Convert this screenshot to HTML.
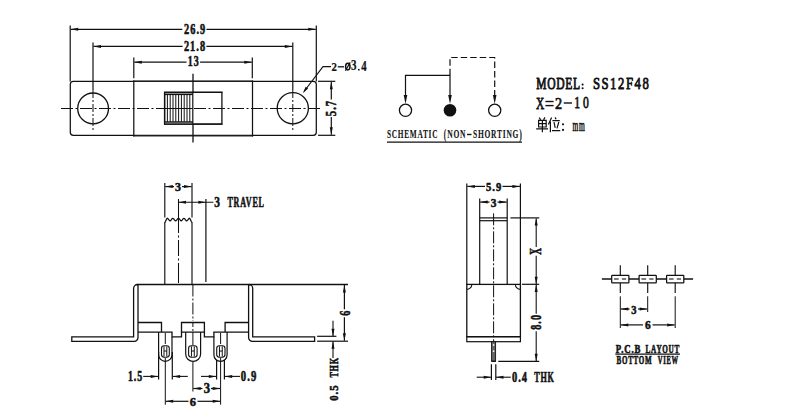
<!DOCTYPE html>
<html><head><meta charset="utf-8"><style>
html,body{margin:0;padding:0;background:#fff;}
svg{display:block;}
</style></head><body>
<svg width="800" height="420" viewBox="0 0 800 420">
<rect width="800" height="420" fill="#fff"/>
<line x1="70.2" y1="25.5" x2="70.2" y2="81.5" stroke="#111" stroke-width="1.2"/>
<line x1="316.3" y1="25.5" x2="316.3" y2="81.5" stroke="#111" stroke-width="1.2"/>
<line x1="93.0" y1="42.5" x2="93.0" y2="90" stroke="#111" stroke-width="1.2"/>
<line x1="292.8" y1="42.5" x2="292.8" y2="90" stroke="#111" stroke-width="1.2"/>
<line x1="133.8" y1="57.5" x2="133.8" y2="78.3" stroke="#111" stroke-width="1.2"/>
<line x1="252.3" y1="57.5" x2="252.3" y2="78.3" stroke="#111" stroke-width="1.2"/>
<line x1="70.7" y1="29.3" x2="182.3" y2="29.3" stroke="#111" stroke-width="1.2"/>
<line x1="206.5" y1="29.3" x2="315.8" y2="29.3" stroke="#111" stroke-width="1.2"/>
<polygon points="70.70,29.30 78.20,27.80 78.20,30.80" fill="#111"/>
<polygon points="315.80,29.30 308.30,27.80 308.30,30.80" fill="#111"/>
<line x1="93.5" y1="46.4" x2="182.6" y2="46.4" stroke="#111" stroke-width="1.2"/>
<line x1="206.4" y1="46.4" x2="292.3" y2="46.4" stroke="#111" stroke-width="1.2"/>
<polygon points="93.50,46.40 101.00,44.90 101.00,47.90" fill="#111"/>
<polygon points="292.30,46.40 284.80,44.90 284.80,47.90" fill="#111"/>
<line x1="134.3" y1="62.2" x2="186.5" y2="62.2" stroke="#111" stroke-width="1.2"/>
<line x1="200.1" y1="62.2" x2="251.8" y2="62.2" stroke="#111" stroke-width="1.2"/>
<polygon points="134.30,62.20 141.80,60.70 141.80,63.70" fill="#111"/>
<polygon points="251.80,62.20 244.30,60.70 244.30,63.70" fill="#111"/>
<text transform="translate(184.000,33.852) scale(0.10366,0.14776)" style="font-family:'Liberation Serif';font-weight:bold;font-size:100px" fill="#111" stroke="#111" stroke-width="3.98" stroke-linejoin="round" letter-spacing="10.0" xml:space="preserve">26.9</text>
<text transform="translate(183.900,51.457) scale(0.10341,0.14328)" style="font-family:'Liberation Serif';font-weight:bold;font-size:100px" fill="#111" stroke="#111" stroke-width="4.05" stroke-linejoin="round" letter-spacing="10.0" xml:space="preserve">21.8</text>
<text transform="translate(187.800,66.457) scale(0.09909,0.14254)" style="font-family:'Liberation Serif';font-weight:bold;font-size:100px" fill="#111" stroke="#111" stroke-width="4.14" stroke-linejoin="round" letter-spacing="10.0" xml:space="preserve">13</text>
<path d="M73.3,81.3 H313.3 A3,3 0 0 1 316.3,84.3 V132.3 A3,3 0 0 1 313.3,135.3 H73.3 A3,3 0 0 1 70.3,132.3 V84.3 A3,3 0 0 1 73.3,81.3 Z" stroke="#111" stroke-width="1.25" fill="none"/>
<line x1="133.2" y1="81.0" x2="253.1" y2="81.0" stroke="#2a2a2a" stroke-width="1.15"/>
<line x1="133.2" y1="136.0" x2="253.1" y2="136.0" stroke="#2a2a2a" stroke-width="1.15"/>
<line x1="133.8" y1="80.5" x2="133.8" y2="136.5" stroke="#111" stroke-width="1.25"/>
<line x1="252.5" y1="80.5" x2="252.5" y2="136.5" stroke="#111" stroke-width="1.25"/>
<circle cx="93.1" cy="108.4" r="15.4" fill="none" stroke="#111" stroke-width="1.3"/>
<circle cx="292.8" cy="108.3" r="15.6" fill="none" stroke="#111" stroke-width="1.3"/>
<line x1="61" y1="108.5" x2="321.3" y2="108.5" stroke="#111" stroke-width="1.0" stroke-dasharray="12 2.5 2 2.5"/>
<line x1="93.0" y1="90" x2="93.0" y2="130" stroke="#111" stroke-width="1.0" stroke-dasharray="8 2 2 2"/>
<line x1="292.8" y1="90" x2="292.8" y2="130" stroke="#111" stroke-width="1.0" stroke-dasharray="8 2 2 2"/>
<line x1="193.0" y1="73.8" x2="193.0" y2="92.3" stroke="#111" stroke-width="1.3"/>
<line x1="193.0" y1="124.1" x2="193.0" y2="142.5" stroke="#111" stroke-width="1.3"/>
<rect x="164.6" y="92.3" width="57.3" height="31.8" fill="none" stroke="#111" stroke-width="1.3"/>
<rect x="164.6" y="92.3" width="28.2" height="2.2" fill="#999"/>
<rect x="164.6" y="121.9" width="28.2" height="2.2" fill="#999"/>
<line x1="164.6" y1="94.5" x2="192.8" y2="94.5" stroke="#111" stroke-width="1.2"/>
<line x1="164.6" y1="121.9" x2="192.8" y2="121.9" stroke="#111" stroke-width="1.2"/>
<line x1="164.0" y1="92.3" x2="222.5" y2="92.3" stroke="#111" stroke-width="1.3"/>
<line x1="164.0" y1="124.1" x2="222.5" y2="124.1" stroke="#111" stroke-width="1.3"/>
<line x1="164.6" y1="92.3" x2="164.6" y2="124.1" stroke="#111" stroke-width="1.3"/>
<line x1="192.8" y1="92.3" x2="192.8" y2="124.1" stroke="#111" stroke-width="1.2"/>
<line x1="167.4" y1="94.5" x2="167.4" y2="121.9" stroke="#111" stroke-width="1.0"/>
<line x1="170.2" y1="94.5" x2="170.2" y2="121.9" stroke="#111" stroke-width="1.0"/>
<line x1="173.0" y1="94.5" x2="173.0" y2="121.9" stroke="#111" stroke-width="1.0"/>
<line x1="175.8" y1="94.5" x2="175.8" y2="121.9" stroke="#111" stroke-width="1.0"/>
<line x1="178.6" y1="94.5" x2="178.6" y2="121.9" stroke="#111" stroke-width="1.0"/>
<line x1="181.4" y1="94.5" x2="181.4" y2="121.9" stroke="#111" stroke-width="1.0"/>
<line x1="184.2" y1="94.5" x2="184.2" y2="121.9" stroke="#111" stroke-width="1.0"/>
<line x1="187.0" y1="94.5" x2="187.0" y2="121.9" stroke="#111" stroke-width="1.0"/>
<line x1="189.8" y1="94.5" x2="189.8" y2="121.9" stroke="#111" stroke-width="1.0"/>
<line x1="164.6" y1="108.5" x2="192.8" y2="108.5" stroke="#111" stroke-width="1.0"/>
<line x1="318" y1="81.3" x2="335.3" y2="81.3" stroke="#111" stroke-width="1.2"/>
<line x1="318" y1="135.3" x2="335.3" y2="135.3" stroke="#111" stroke-width="1.2"/>
<line x1="331.3" y1="81.8" x2="331.3" y2="99.6" stroke="#111" stroke-width="1.2"/>
<line x1="331.3" y1="117.1" x2="331.3" y2="134.8" stroke="#111" stroke-width="1.2"/>
<polygon points="331.30,81.80 329.80,89.30 332.80,89.30" fill="#111"/>
<polygon points="331.30,134.80 329.80,127.30 332.80,127.30" fill="#111"/>
<text transform="translate(335.856,116.200) rotate(-90) scale(0.10621,0.14394)" style="font-family:'Liberation Serif';font-weight:bold;font-size:100px" fill="#111" stroke="#111" stroke-width="4.00" stroke-linejoin="round" letter-spacing="10.0" xml:space="preserve">5.7</text>
<path d="M331,66.6 H323 L304,91.5" stroke="#111" stroke-width="1.1" fill="none"/>
<polygon points="302.80,93.30 305.68,86.75 308.11,88.50" fill="#111"/>
<text transform="translate(331.600,70.500) scale(0.10800,0.13485)" style="font-family:'Liberation Serif';font-weight:bold;font-size:100px" fill="#111" stroke="#111" stroke-width="1.65" stroke-linejoin="round" letter-spacing="10.0" xml:space="preserve">2</text>
<line x1="337.8" y1="66.8" x2="344" y2="66.8" stroke="#111" stroke-width="1.3"/>
<ellipse cx="347.8" cy="66.6" rx="2.2" ry="3.3" fill="none" stroke="#111" stroke-width="1.5"/>
<line x1="350.2" y1="62.4" x2="345.4" y2="70.8" stroke="#111" stroke-width="1.2"/>
<text transform="translate(351.000,70.364) scale(0.11000,0.13582)" style="font-family:'Liberation Serif';font-weight:bold;font-size:100px" fill="#111" stroke="#111" stroke-width="1.63" stroke-linejoin="round" letter-spacing="10.0" xml:space="preserve">3</text>
<rect x="358.0" y="68.9" width="1.6" height="1.6" fill="#111"/>
<text transform="translate(361.200,70.500) scale(0.10800,0.14000)" style="font-family:'Liberation Serif';font-weight:bold;font-size:100px" fill="#111" stroke="#111" stroke-width="1.61" stroke-linejoin="round" letter-spacing="10.0" xml:space="preserve">4</text>
<path d="M405.5,96 V75.3 H450 V96" stroke="#111" stroke-width="1.2" fill="none"/>
<path d="M450,75.3 V57.5 H494.7 V96" stroke="#111" stroke-width="1.2" fill="none" stroke-dasharray="6.5 3"/>
<polygon points="405.50,104.00 403.70,95.00 407.30,95.00" fill="#111"/>
<polygon points="450.00,104.00 448.20,95.00 451.80,95.00" fill="#111"/>
<polygon points="494.70,104.00 492.90,95.00 496.50,95.00" fill="#111"/>
<circle cx="405.5" cy="110.3" r="6.1" fill="#fff" stroke="#111" stroke-width="1.3"/>
<circle cx="450" cy="110.3" r="6.3" fill="#111"/>
<circle cx="494.7" cy="110.3" r="6.1" fill="#fff" stroke="#111" stroke-width="1.3"/>
<text transform="translate(387.000,138.281) scale(0.07329,0.11940)" style="font-family:'Liberation Serif';font-weight:bold;font-size:100px" fill="#111" stroke="#111" stroke-width="1.04" stroke-linejoin="round" letter-spacing="10.0" xml:space="preserve">SCHEMATIC</text>
<text transform="translate(443.750,138.908) scale(0.07424,0.14722)" style="font-family:'Liberation Serif';font-weight:bold;font-size:100px" fill="#111" stroke="#111" stroke-width="0.90" stroke-linejoin="round" letter-spacing="10.0" xml:space="preserve">(</text>
<text transform="translate(447.250,138.279) scale(0.07541,0.12090)" style="font-family:'Liberation Serif';font-weight:bold;font-size:100px" fill="#111" stroke="#111" stroke-width="1.02" stroke-linejoin="round" letter-spacing="10.0" xml:space="preserve">NON</text>
<line x1="467" y1="134.5" x2="471.5" y2="134.5" stroke="#111" stroke-width="1.4"/>
<text transform="translate(473.000,138.400) scale(0.07508,0.12462)" style="font-family:'Liberation Serif';font-weight:bold;font-size:100px" fill="#111" stroke="#111" stroke-width="1.00" stroke-linejoin="round" letter-spacing="10.0" xml:space="preserve">SHORTING</text>
<text transform="translate(519.200,138.567) scale(0.07879,0.14444)" style="font-family:'Liberation Serif';font-weight:bold;font-size:100px" fill="#111" stroke="#111" stroke-width="0.90" stroke-linejoin="round" letter-spacing="10.0" xml:space="preserve">)</text>
<line x1="387" y1="142.2" x2="522" y2="142.2" stroke="#111" stroke-width="1.3"/>
<text transform="translate(536.300,88.839) scale(0.11553,0.16119)" style="font-family:'Liberation Serif';font-weight:normal;font-size:100px" fill="#111" stroke="#111" stroke-width="5.42" stroke-linejoin="round" letter-spacing="6.0" xml:space="preserve">MODEL</text>
<circle cx="582.6" cy="84.6" r="1.05" fill="#111"/>
<circle cx="582.6" cy="88.3" r="1.05" fill="#111"/>
<text transform="translate(592.900,88.839) scale(0.12733,0.16119)" style="font-family:'Liberation Serif';font-weight:normal;font-size:100px" fill="#111" stroke="#111" stroke-width="5.20" stroke-linejoin="round" letter-spacing="12.0" xml:space="preserve">SS12F48</text>
<text transform="translate(536.000,108.500) scale(0.11458,0.16769)" style="font-family:'Liberation Serif';font-weight:normal;font-size:100px" fill="#111" stroke="#111" stroke-width="4.61" stroke-linejoin="round" letter-spacing="10.0" xml:space="preserve">X</text>
<line x1="545.4" y1="101.5" x2="553.6" y2="101.5" stroke="#111" stroke-width="1.4"/>
<line x1="545.4" y1="105.6" x2="553.6" y2="105.6" stroke="#111" stroke-width="1.4"/>
<text transform="translate(555.100,108.500) scale(0.14300,0.16769)" style="font-family:'Liberation Serif';font-weight:normal;font-size:100px" fill="#111" stroke="#111" stroke-width="4.18" stroke-linejoin="round" letter-spacing="10.0" xml:space="preserve">2</text>
<line x1="563.75" y1="103" x2="572" y2="103" stroke="#111" stroke-width="1.4"/>
<text transform="translate(574.300,108.337) scale(0.11680,0.16269)" style="font-family:'Liberation Serif';font-weight:normal;font-size:100px" fill="#111" stroke="#111" stroke-width="4.65" stroke-linejoin="round" letter-spacing="25.0" xml:space="preserve">10</text>
<text transform="translate(572.400,130.900) scale(0.07470,0.16596)" style="font-family:'Liberation Serif';font-weight:normal;font-size:100px" fill="#111" stroke="#111" stroke-width="4.16" stroke-linejoin="round" letter-spacing="10.0" xml:space="preserve">mm</text>
<circle cx="563" cy="124.3" r="1.1" fill="#111"/>
<circle cx="563" cy="129.9" r="1.1" fill="#111"/>
<path d="M539.2,117.6 L540.6,119.6 M545,117.4 L543.6,119.6 M538.6,120.3 H546.2 V127 H538.6 Z M538.6,123.6 H546.2 M542.4,120.3 V132.2 M536.2,128.9 H548" stroke="#111" stroke-width="1.2" fill="none"/>
<path d="M551.6,117.4 L548.4,124.6 M550.4,121.6 V132.2 M555.1,117.4 L556.1,119.2 M552.4,120.6 H559.8 M554.0,122.2 L555.2,127.8 M558.8,122 L557.0,128.4 M552.0,130.6 H560.2" stroke="#111" stroke-width="1.2" fill="none"/>
<line x1="164.8" y1="182.9" x2="164.8" y2="217.6" stroke="#111" stroke-width="1.15"/>
<line x1="192.0" y1="182.9" x2="192.0" y2="217.6" stroke="#111" stroke-width="1.15"/>
<line x1="164.8" y1="222.0" x2="164.8" y2="284.5" stroke="#111" stroke-width="1.15"/>
<line x1="192.0" y1="222.0" x2="192.0" y2="284.5" stroke="#111" stroke-width="1.15"/>
<path d="M164.80,222.30 L165.21,222.03 L165.62,221.30 L166.03,220.30 L166.43,219.30 L166.84,218.57 L167.25,218.30 L167.72,218.47 L168.20,218.93 L168.68,219.55 L169.15,220.18 L169.62,220.63 L170.10,220.80 L170.55,220.63 L171.00,220.18 L171.45,219.55 L171.90,218.93 L172.35,218.47 L172.80,218.30 L173.27,218.47 L173.73,218.93 L174.20,219.55 L174.67,220.18 L175.13,220.63 L175.60,220.80 L176.08,220.63 L176.57,220.18 L177.05,219.55 L177.53,218.93 L178.02,218.47 L178.50,218.30 L178.95,218.47 L179.40,218.93 L179.85,219.55 L180.30,220.18 L180.75,220.63 L181.20,220.80 L181.65,220.63 L182.10,220.18 L182.55,219.55 L183.00,218.93 L183.45,218.47 L183.90,218.30 L184.35,218.47 L184.80,218.93 L185.25,219.55 L185.70,220.18 L186.15,220.63 L186.60,220.80 L187.08,220.63 L187.57,220.18 L188.05,219.55 L188.53,218.93 L189.02,218.47 L189.50,218.30 L189.92,218.57 L190.33,219.30 L190.75,220.30 L191.17,221.30 L191.58,222.03 L192.00,222.30" stroke="#111" stroke-width="1.25" fill="none"/>
<line x1="178.5" y1="199" x2="178.5" y2="284.5" stroke="#111" stroke-width="1.05" stroke-dasharray="34 2.5 2 2.5 16 2.5 2 2.5 20 2.5 2 2.5"/>
<line x1="165.3" y1="186.6" x2="174" y2="186.6" stroke="#111" stroke-width="1.2"/>
<line x1="182" y1="186.6" x2="191.5" y2="186.6" stroke="#111" stroke-width="1.2"/>
<polygon points="165.30,186.60 172.80,185.10 172.80,188.10" fill="#111"/>
<polygon points="191.50,186.60 184.00,185.10 184.00,188.10" fill="#111"/>
<text transform="translate(175.000,191.379) scale(0.12000,0.12090)" style="font-family:'Liberation Serif';font-weight:bold;font-size:100px" fill="#111" stroke="#111" stroke-width="4.15" stroke-linejoin="round" letter-spacing="10.0" xml:space="preserve">3</text>
<line x1="205.9" y1="199" x2="205.9" y2="282" stroke="#111" stroke-width="1.2"/>
<line x1="178.5" y1="202.2" x2="213.4" y2="202.2" stroke="#111" stroke-width="1.1"/>
<polygon points="178.50,202.20 186.00,200.70 186.00,203.70" fill="#111"/>
<polygon points="205.90,202.20 198.40,200.70 198.40,203.70" fill="#111"/>
<text transform="translate(214.300,207.249) scale(0.11400,0.15075)" style="font-family:'Liberation Serif';font-weight:bold;font-size:100px" fill="#111" stroke="#111" stroke-width="3.78" stroke-linejoin="round" letter-spacing="10.0" xml:space="preserve">3</text>
<text transform="translate(227.400,207.249) scale(0.08062,0.15075)" style="font-family:'Liberation Serif';font-weight:bold;font-size:100px" fill="#111" stroke="#111" stroke-width="4.32" stroke-linejoin="round" letter-spacing="10.0" xml:space="preserve">TRAVEL</text>
<line x1="137.0" y1="284.5" x2="348" y2="284.5" stroke="#111" stroke-width="1.3"/>
<path d="M137.5,284.5 A3.9,3.9 0 0 0 133.6,288.4 V336.8 H71.8 V341.3 H134.2 A3.8,3.8 0 0 0 138,337.5 V284.5" stroke="#111" stroke-width="1.3" fill="none"/>
<path d="M248.9,284.5 A3.8,3.8 0 0 1 252.7,288.3 V336.8 H314.6 V341.3 H252.4 A3.8,3.8 0 0 1 248.6,337.5 V284.5" stroke="#111" stroke-width="1.3" fill="none"/>
<path d="M138,332.1 H172 V336.9 H181.5 V332.1 H204.4 V336.8 H213.9 V332.1 H248.6" stroke="#111" stroke-width="1.3" fill="none"/>
<path d="M138,322.5 H161.5 V332.1" stroke="#111" stroke-width="1.3" fill="none"/>
<path d="M181.5,332.1 V322.5 H204.4 V332.1" stroke="#111" stroke-width="1.3" fill="none"/>
<path d="M225.1,332.1 V322.5 H248.6" stroke="#111" stroke-width="1.3" fill="none"/>
<path d="M158.6,332.1 V354.70 A6.70,6.70 0 0 0 172.0,354.70 V336.9" stroke="#111" stroke-width="1.2" fill="none"/>
<path d="M185.7,332.1 V353.95 A7.45,7.45 0 0 0 200.6,353.95 V332.1" stroke="#111" stroke-width="1.2" fill="none"/>
<path d="M213.9,336.8 V354.80 A6.60,6.60 0 0 0 227.1,354.80 V332.1" stroke="#111" stroke-width="1.2" fill="none"/>
<rect x="161.5" y="345.8" width="7.80" height="11.40" rx="2.6" fill="none" stroke="#111" stroke-width="1.1"/>
<path d="M164.00,346.40000000000003 V356.59999999999997 M166.80,346.40000000000003 V356.59999999999997 M164.00,351.00 H166.80" stroke="#111" stroke-width="1.0" fill="none"/>
<rect x="188.6" y="345.8" width="8.50" height="11.40" rx="2.6" fill="none" stroke="#111" stroke-width="1.1"/>
<path d="M191.45,346.40000000000003 V356.59999999999997 M194.25,346.40000000000003 V356.59999999999997 M191.45,351.00 H194.25" stroke="#111" stroke-width="1.0" fill="none"/>
<rect x="216.7" y="345.8" width="8.30" height="11.40" rx="2.6" fill="none" stroke="#111" stroke-width="1.1"/>
<path d="M219.45,346.40000000000003 V356.59999999999997 M222.25,346.40000000000003 V356.59999999999997 M219.45,351.00 H222.25" stroke="#111" stroke-width="1.0" fill="none"/>
<line x1="165.3" y1="333" x2="165.3" y2="344" stroke="#111" stroke-width="1.0"/>
<line x1="165.3" y1="358" x2="165.3" y2="404.7" stroke="#111" stroke-width="1.0"/>
<line x1="192.9" y1="284.5" x2="192.9" y2="321" stroke="#111" stroke-width="1.0" stroke-dasharray="12 2 2 2"/>
<line x1="192.9" y1="322" x2="192.9" y2="331" stroke="#111" stroke-width="1.0" stroke-dasharray="5 2 2 2"/>
<line x1="192.9" y1="332" x2="192.9" y2="345" stroke="#111" stroke-width="1.0"/>
<line x1="192.9" y1="362" x2="192.9" y2="391.5" stroke="#111" stroke-width="1.0"/>
<line x1="220.6" y1="333" x2="220.6" y2="344" stroke="#111" stroke-width="1.0"/>
<line x1="220.6" y1="358" x2="220.6" y2="404.7" stroke="#111" stroke-width="1.0"/>
<line x1="158.6" y1="352" x2="158.6" y2="379.5" stroke="#111" stroke-width="1.2"/>
<line x1="172.3" y1="352" x2="172.3" y2="379.5" stroke="#111" stroke-width="1.2"/>
<line x1="216.6" y1="360" x2="216.6" y2="379.5" stroke="#111" stroke-width="1.2"/>
<line x1="224.4" y1="360" x2="224.4" y2="379.5" stroke="#111" stroke-width="1.2"/>
<line x1="143.2" y1="376.4" x2="158.2" y2="376.4" stroke="#111" stroke-width="1.1"/>
<polygon points="158.20,376.40 150.70,374.90 150.70,377.90" fill="#111"/>
<line x1="172.6" y1="376.4" x2="187.8" y2="376.4" stroke="#111" stroke-width="1.1"/>
<polygon points="172.60,376.40 180.10,374.90 180.10,377.90" fill="#111"/>
<text transform="translate(127.900,381.445) scale(0.09897,0.15455)" style="font-family:'Liberation Serif';font-weight:bold;font-size:100px" fill="#111" stroke="#111" stroke-width="3.94" stroke-linejoin="round" letter-spacing="10.0" xml:space="preserve">1.5</text>
<line x1="201" y1="376.4" x2="216.3" y2="376.4" stroke="#111" stroke-width="1.1"/>
<polygon points="216.30,376.40 208.80,374.90 208.80,377.90" fill="#111"/>
<line x1="224.7" y1="376.4" x2="240" y2="376.4" stroke="#111" stroke-width="1.1"/>
<polygon points="224.70,376.40 232.20,374.90 232.20,377.90" fill="#111"/>
<text transform="translate(240.750,381.448) scale(0.10690,0.15224)" style="font-family:'Liberation Serif';font-weight:bold;font-size:100px" fill="#111" stroke="#111" stroke-width="3.86" stroke-linejoin="round" letter-spacing="10.0" xml:space="preserve">0.9</text>
<line x1="193.2" y1="388.5" x2="202.5" y2="388.5" stroke="#111" stroke-width="1.2"/>
<line x1="211" y1="388.5" x2="220.2" y2="388.5" stroke="#111" stroke-width="1.2"/>
<polygon points="193.20,388.50 200.70,387.00 200.70,390.00" fill="#111"/>
<polygon points="220.20,388.50 212.70,387.00 212.70,390.00" fill="#111"/>
<text transform="translate(203.750,392.963) scale(0.12500,0.13731)" style="font-family:'Liberation Serif';font-weight:bold;font-size:100px" fill="#111" stroke="#111" stroke-width="3.81" stroke-linejoin="round" letter-spacing="10.0" xml:space="preserve">3</text>
<line x1="165.7" y1="401.3" x2="188.5" y2="401.3" stroke="#111" stroke-width="1.2"/>
<line x1="197.5" y1="401.3" x2="220.2" y2="401.3" stroke="#111" stroke-width="1.2"/>
<polygon points="165.70,401.30 173.20,399.80 173.20,402.80" fill="#111"/>
<polygon points="220.20,401.30 212.70,399.80 212.70,402.80" fill="#111"/>
<text transform="translate(189.750,405.670) scale(0.12500,0.12985)" style="font-family:'Liberation Serif';font-weight:bold;font-size:100px" fill="#111" stroke="#111" stroke-width="3.92" stroke-linejoin="round" letter-spacing="10.0" xml:space="preserve">6</text>
<line x1="317.1" y1="336.3" x2="336.4" y2="336.3" stroke="#111" stroke-width="1.2"/>
<line x1="317.1" y1="341.2" x2="348" y2="341.2" stroke="#111" stroke-width="1.2"/>
<line x1="344.4" y1="285" x2="344.4" y2="309.2" stroke="#111" stroke-width="1.2"/>
<line x1="344.4" y1="317.3" x2="344.4" y2="340.8" stroke="#111" stroke-width="1.2"/>
<polygon points="344.40,285.00 342.90,292.50 345.90,292.50" fill="#111"/>
<polygon points="344.40,340.80 342.90,333.30 345.90,333.30" fill="#111"/>
<text transform="translate(349.654,315.800) rotate(-90) scale(0.10200,0.14627)" style="font-family:'Liberation Serif';font-weight:bold;font-size:100px" fill="#111" stroke="#111" stroke-width="4.03" stroke-linejoin="round" letter-spacing="10.0" xml:space="preserve">6</text>
<line x1="333.0" y1="320.7" x2="333.0" y2="336.3" stroke="#111" stroke-width="1.1"/>
<polygon points="333.00,336.30 331.50,328.80 334.50,328.80" fill="#111"/>
<line x1="333.0" y1="341.2" x2="333.0" y2="358" stroke="#111" stroke-width="1.1"/>
<polygon points="333.00,341.20 331.50,348.70 334.50,348.70" fill="#111"/>
<text transform="translate(337.700,377.600) rotate(-90) scale(0.08099,0.12769)" style="font-family:'Liberation Serif';font-weight:bold;font-size:100px" fill="#111" stroke="#111" stroke-width="4.79" stroke-linejoin="round" letter-spacing="10.0" xml:space="preserve">THK</text>
<text transform="translate(337.576,400.800) rotate(-90) scale(0.10621,0.12388)" style="font-family:'Liberation Serif';font-weight:bold;font-size:100px" fill="#111" stroke="#111" stroke-width="4.35" stroke-linejoin="round" letter-spacing="10.0" xml:space="preserve">0.5</text>
<line x1="466.8" y1="183.6" x2="466.8" y2="285" stroke="#111" stroke-width="1.2"/>
<line x1="520.4" y1="183.6" x2="520.4" y2="285" stroke="#111" stroke-width="1.2"/>
<line x1="467.3" y1="186.4" x2="485" y2="186.4" stroke="#111" stroke-width="1.2"/>
<line x1="502.5" y1="186.4" x2="519.9" y2="186.4" stroke="#111" stroke-width="1.2"/>
<polygon points="467.30,186.40 474.80,184.90 474.80,187.90" fill="#111"/>
<polygon points="519.90,186.40 512.40,184.90 512.40,187.90" fill="#111"/>
<text transform="translate(486.000,190.879) scale(0.10621,0.12090)" style="font-family:'Liberation Serif';font-weight:bold;font-size:100px" fill="#111" stroke="#111" stroke-width="4.40" stroke-linejoin="round" letter-spacing="10.0" xml:space="preserve">5.9</text>
<line x1="479.7" y1="198.6" x2="479.7" y2="284.2" stroke="#111" stroke-width="1.2"/>
<line x1="507.2" y1="198.6" x2="507.2" y2="284.2" stroke="#111" stroke-width="1.2"/>
<line x1="480.2" y1="202.1" x2="489.5" y2="202.1" stroke="#111" stroke-width="1.2"/>
<line x1="497.5" y1="202.1" x2="506.7" y2="202.1" stroke="#111" stroke-width="1.2"/>
<polygon points="480.20,202.10 487.70,200.60 487.70,203.60" fill="#111"/>
<polygon points="506.70,202.10 499.20,200.60 499.20,203.60" fill="#111"/>
<text transform="translate(490.700,206.984) scale(0.11400,0.11642)" style="font-family:'Liberation Serif';font-weight:bold;font-size:100px" fill="#111" stroke="#111" stroke-width="4.34" stroke-linejoin="round" letter-spacing="10.0" xml:space="preserve">3</text>
<line x1="479.7" y1="217.9" x2="507.2" y2="217.9" stroke="#111" stroke-width="1.2"/>
<line x1="479.7" y1="220.7" x2="507.2" y2="220.7" stroke="#111" stroke-width="1.2"/>
<line x1="493.6" y1="213.3" x2="493.6" y2="345" stroke="#111" stroke-width="1.0" stroke-dasharray="12 2 2 2"/>
<rect x="466.8" y="284.4" width="53.6" height="52.3" fill="none" stroke="#111" stroke-width="1.3"/>
<rect x="466.8" y="336.7" width="53.6" height="5.0" fill="none" stroke="#111" stroke-width="1.2"/>
<path d="M471.8,284.4 A5,5 0 0 1 466.8,289.4" stroke="#111" stroke-width="1.1" fill="none"/>
<path d="M515.4,284.4 A5,5 0 0 0 520.4,289.4" stroke="#111" stroke-width="1.1" fill="none"/>
<rect x="491.6" y="341.7" width="4.0" height="19.6" fill="#666" stroke="#111" stroke-width="0.9"/>
<rect x="492.9" y="344.2" width="1.4" height="1.6" fill="#fff"/>
<rect x="492.9" y="350.4" width="1.4" height="1.6" fill="#fff"/>
<line x1="491.6" y1="361.3" x2="495.6" y2="361.3" stroke="#111" stroke-width="1.3"/>
<line x1="510.4" y1="217.9" x2="539.3" y2="217.9" stroke="#111" stroke-width="1.2"/>
<line x1="522" y1="284.3" x2="539.2" y2="284.3" stroke="#111" stroke-width="1.2"/>
<line x1="498.3" y1="361.3" x2="539.2" y2="361.3" stroke="#111" stroke-width="1.2"/>
<line x1="536.2" y1="218.4" x2="536.2" y2="247.1" stroke="#111" stroke-width="1.1"/>
<line x1="536.2" y1="255.7" x2="536.2" y2="284" stroke="#111" stroke-width="1.1"/>
<polygon points="536.20,218.00 534.70,225.50 537.70,225.50" fill="#111"/>
<polygon points="536.20,284.20 534.70,276.70 537.70,276.70" fill="#111"/>
<line x1="536.2" y1="284.5" x2="536.2" y2="313.75" stroke="#111" stroke-width="1.1"/>
<line x1="536.2" y1="331.25" x2="536.2" y2="361" stroke="#111" stroke-width="1.1"/>
<polygon points="536.20,284.40 534.70,291.90 537.70,291.90" fill="#111"/>
<polygon points="536.20,361.30 534.70,353.80 537.70,353.80" fill="#111"/>
<text transform="translate(541.100,254.700) rotate(-90) scale(0.09306,0.15692)" style="font-family:'Liberation Serif';font-weight:bold;font-size:100px" fill="#111" stroke="#111" stroke-width="4.00" stroke-linejoin="round" letter-spacing="10.0" xml:space="preserve">X</text>
<text transform="translate(540.557,329.800) rotate(-90) scale(0.10207,0.14328)" style="font-family:'Liberation Serif';font-weight:bold;font-size:100px" fill="#111" stroke="#111" stroke-width="4.08" stroke-linejoin="round" letter-spacing="10.0" xml:space="preserve">8.0</text>
<line x1="491.4" y1="364.2" x2="491.4" y2="380" stroke="#111" stroke-width="1.2"/>
<line x1="495.8" y1="364.2" x2="495.8" y2="380" stroke="#111" stroke-width="1.2"/>
<line x1="476.7" y1="377.2" x2="491.2" y2="377.2" stroke="#111" stroke-width="1.1"/>
<polygon points="491.20,377.20 483.70,375.70 483.70,378.70" fill="#111"/>
<line x1="496" y1="377.2" x2="510.8" y2="377.2" stroke="#111" stroke-width="1.1"/>
<polygon points="496.00,377.20 503.50,375.70 503.50,378.70" fill="#111"/>
<text transform="translate(511.900,382.255) scale(0.10414,0.14478)" style="font-family:'Liberation Serif';font-weight:bold;font-size:100px" fill="#111" stroke="#111" stroke-width="4.02" stroke-linejoin="round" letter-spacing="10.0" xml:space="preserve">0.4</text>
<text transform="translate(534.200,382.400) scale(0.08140,0.14923)" style="font-family:'Liberation Serif';font-weight:bold;font-size:100px" fill="#111" stroke="#111" stroke-width="4.34" stroke-linejoin="round" letter-spacing="10.0" xml:space="preserve">THK</text>
<line x1="601.9" y1="279" x2="693.1" y2="279" stroke="#111" stroke-width="1.35"/>
<rect x="611.70" y="275.3" width="17.2" height="7.6" rx="0.6" fill="#fff" stroke="#111" stroke-width="1.25"/>
<line x1="614.0" y1="279" x2="618.6999999999999" y2="279" stroke="#111" stroke-width="1.1"/>
<line x1="621.9" y1="279" x2="626.0999999999999" y2="279" stroke="#111" stroke-width="1.1"/>
<line x1="620.3" y1="265.3" x2="620.3" y2="275.3" stroke="#111" stroke-width="1.15"/>
<line x1="620.3" y1="282.9" x2="620.3" y2="293.1" stroke="#111" stroke-width="1.15"/>
<rect x="639.10" y="275.3" width="17.2" height="7.6" rx="0.6" fill="#fff" stroke="#111" stroke-width="1.25"/>
<line x1="641.4000000000001" y1="279" x2="646.1" y2="279" stroke="#111" stroke-width="1.1"/>
<line x1="649.3000000000001" y1="279" x2="653.5" y2="279" stroke="#111" stroke-width="1.1"/>
<line x1="647.7" y1="265.3" x2="647.7" y2="275.3" stroke="#111" stroke-width="1.15"/>
<line x1="647.7" y1="282.9" x2="647.7" y2="293.1" stroke="#111" stroke-width="1.15"/>
<rect x="666.60" y="275.3" width="17.2" height="7.6" rx="0.6" fill="#fff" stroke="#111" stroke-width="1.25"/>
<line x1="668.9000000000001" y1="279" x2="673.6" y2="279" stroke="#111" stroke-width="1.1"/>
<line x1="676.8000000000001" y1="279" x2="681.0" y2="279" stroke="#111" stroke-width="1.1"/>
<line x1="675.2" y1="265.3" x2="675.2" y2="275.3" stroke="#111" stroke-width="1.15"/>
<line x1="675.2" y1="282.9" x2="675.2" y2="293.1" stroke="#111" stroke-width="1.15"/>
<line x1="620.3" y1="296.3" x2="620.3" y2="328" stroke="#111" stroke-width="1.0"/>
<line x1="647.7" y1="296.3" x2="647.7" y2="312" stroke="#111" stroke-width="1.0"/>
<line x1="675.2" y1="296.3" x2="675.2" y2="328" stroke="#111" stroke-width="1.0"/>
<line x1="620.8" y1="309" x2="629.5" y2="309" stroke="#111" stroke-width="1.2"/>
<line x1="638" y1="309" x2="647.2" y2="309" stroke="#111" stroke-width="1.2"/>
<polygon points="620.80,309.00 628.30,307.50 628.30,310.50" fill="#111"/>
<polygon points="647.20,309.00 639.70,307.50 639.70,310.50" fill="#111"/>
<text transform="translate(631.200,313.678) scale(0.10600,0.12239)" style="font-family:'Liberation Serif';font-weight:bold;font-size:100px" fill="#111" stroke="#111" stroke-width="4.38" stroke-linejoin="round" letter-spacing="10.0" xml:space="preserve">3</text>
<line x1="620.8" y1="324.9" x2="643" y2="324.9" stroke="#111" stroke-width="1.2"/>
<line x1="652.5" y1="324.9" x2="674.7" y2="324.9" stroke="#111" stroke-width="1.2"/>
<polygon points="620.80,324.90 628.30,323.40 628.30,326.40" fill="#111"/>
<polygon points="674.70,324.90 667.20,323.40 667.20,326.40" fill="#111"/>
<text transform="translate(644.900,329.478) scale(0.11400,0.12239)" style="font-family:'Liberation Serif';font-weight:bold;font-size:100px" fill="#111" stroke="#111" stroke-width="4.23" stroke-linejoin="round" letter-spacing="10.0" xml:space="preserve">6</text>
<text transform="translate(615.800,352.700) scale(0.08790,0.11538)" style="font-family:'Liberation Serif';font-weight:bold;font-size:100px" fill="#111" stroke="#111" stroke-width="4.92" stroke-linejoin="round" letter-spacing="10.0" xml:space="preserve">P.C.B</text>
<text transform="translate(645.600,352.700) scale(0.07207,0.11538)" style="font-family:'Liberation Serif';font-weight:bold;font-size:100px" fill="#111" stroke="#111" stroke-width="5.33" stroke-linejoin="round" letter-spacing="10.0" xml:space="preserve">LAYOUT</text>
<line x1="615.3" y1="354.2" x2="680" y2="354.2" stroke="#111" stroke-width="1.2"/>
<text transform="translate(616.600,363.777) scale(0.07048,0.12348)" style="font-family:'Liberation Serif';font-weight:bold;font-size:100px" fill="#111" stroke="#111" stroke-width="5.16" stroke-linejoin="round" letter-spacing="10.0" xml:space="preserve">BOTTOM</text>
<text transform="translate(657.800,363.900) scale(0.06558,0.12538)" style="font-family:'Liberation Serif';font-weight:bold;font-size:100px" fill="#111" stroke="#111" stroke-width="5.24" stroke-linejoin="round" letter-spacing="10.0" xml:space="preserve">VIEW</text>
</svg>
</body></html>
